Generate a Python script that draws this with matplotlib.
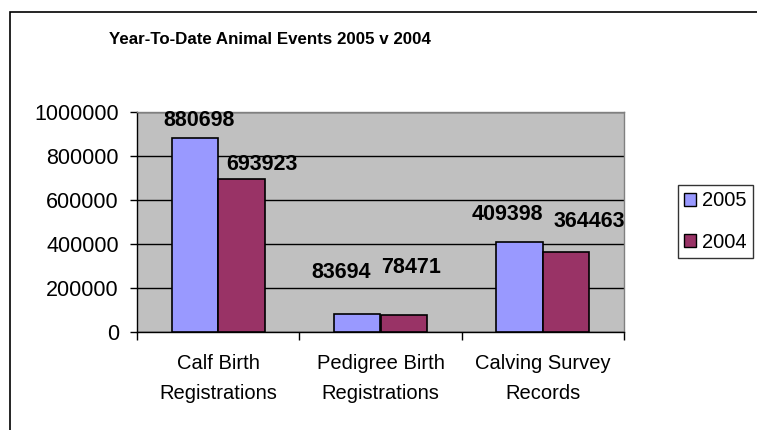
import numpy as np
import matplotlib.pyplot as plt
from matplotlib.patches import Patch, Rectangle

categories = ["Calf Birth\nRegistrations", "Pedigree Birth\nRegistrations", "Calving Survey\nRecords"]
series_names = ["2005", "2004"]
values_2005 = [880698, 83694, 409398]
values_2004 = [693923, 78471, 364463]
y_ticks = [0, 200000, 400000, 600000, 800000, 1000000]

# label nudges in pixels (Excel put them a bit unevenly)
offs_2005 = [(4, 18), (-16, 41), (-12, 27)]
offs_2004 = [(21, 15), (7, 47), (23, 30)]

plt.rcParams['font.family'] = ['Liberation Sans', 'DejaVu Sans']

fig = plt.figure(figsize=(7.57, 4.30), dpi=100)
ax = fig.add_axes([137/757, 1 - 332/430, (624 - 137)/757, (332 - 112)/430])
ax.set_facecolor('#C0C0C0')

x = np.arange(len(categories))
w = 1 / 3.5
b1 = ax.bar(x - w/2, values_2005, w, color='#9999FF', edgecolor='black', linewidth=1.2, zorder=3)
b2 = ax.bar(x + w/2, values_2004, w, color='#993366', edgecolor='black', linewidth=1.2, zorder=3)

for bars, vals, offs in [(b1, values_2005, offs_2005), (b2, values_2004, offs_2004)]:
    for r, v, (dx, dy) in zip(bars, vals, offs):
        ax.annotate(str(v), (r.get_x() + r.get_width()/2, r.get_height()),
                    xytext=(dx, dy), textcoords='offset pixels',
                    ha='center', va='center', fontsize=15.5, fontweight='bold', zorder=4)

ax.set_xlim(-0.5, 2.5)
ax.set_ylim(0, 1000000)
ax.set_yticks(y_ticks)
ax.set_yticklabels([str(t) for t in y_ticks], fontsize=15.5)
ax.yaxis.grid(True, color='black', linewidth=1, zorder=1)
ax.set_axisbelow(True)

ax.set_xticks(x)
ax.set_xticklabels(categories, fontsize=14.5, linespacing=1.75)
ax.set_xticks([-0.5, 0.5, 1.5, 2.5], minor=True)
ax.tick_params(axis='x', which='major', length=0, pad=16)
ax.tick_params(axis='x', which='minor', length=6, width=1, direction='out')
ax.tick_params(axis='y', length=5, width=1, direction='out', pad=8)

for s in ['top', 'right']:
    ax.spines[s].set_color('#808080')
    ax.spines[s].set_linewidth(1)
for s in ['left', 'bottom']:
    ax.spines[s].set_color('black')
    ax.spines[s].set_linewidth(1)

fig.text(270/757, 1 - 40/430, "Year-To-Date Animal Events 2005 v 2004",
         ha='center', va='center', fontsize=12.2, fontweight='bold')

handles = [Patch(facecolor='#9999FF', edgecolor='black'),
           Patch(facecolor='#993366', edgecolor='black')]
leg = fig.legend(handles, series_names, loc='center left',
                 bbox_to_anchor=(678/757, 1 - 221.5/430), fontsize=14.5,
                 frameon=True, fancybox=False, handlelength=0.6, handleheight=0.6,
                 handletextpad=0.3, borderpad=0.3, labelspacing=1.1, borderaxespad=0)
leg.get_frame().set_edgecolor('black')
leg.get_frame().set_linewidth(1)

# outer chart border (runs off the right and bottom of the image)
fig.patches.append(Rectangle((10/757, -0.5), 2, 0.5 + 1 - 12/430,
                             transform=fig.transFigure, fill=False,
                             edgecolor='black', linewidth=1.2))

plt.savefig("out.png", dpi=100)
